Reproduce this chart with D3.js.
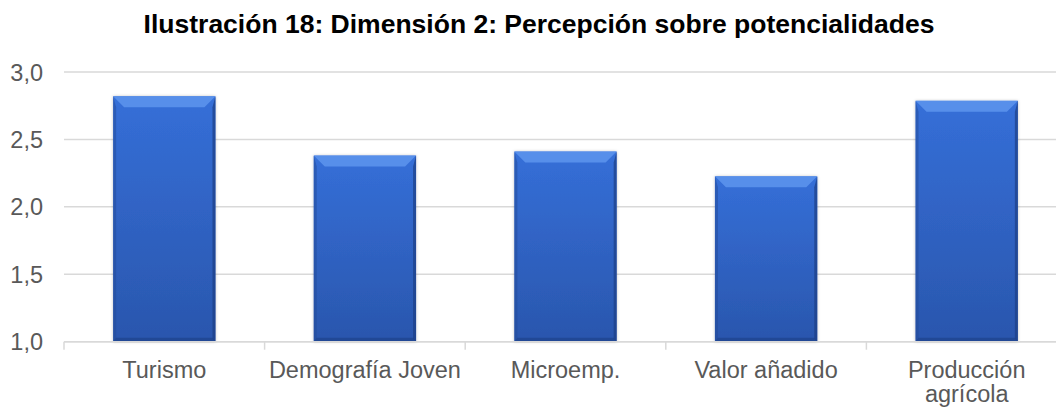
<!DOCTYPE html>
<html>
<head>
<meta charset="utf-8">
<script src="https://cdn.jsdelivr.net/npm/d3@7"></script>
<style>
  body { margin: 0; background: #fff; }
  svg { display: block; }
</style>
</head>
<body>
<div id="chartContainer"></div>
<script>
var categories = ['Turismo', 'Demografía Joven', 'Microemp.', 'Valor añadido', 'Producción agrícola'];
var values = [2.82, 2.38, 2.41, 2.226, 2.786];
var yTicks = [1.0, 1.5, 2.0, 2.5, 3.0];
var titleText = 'Ilustración 18: Dimensión 2: Percepción sobre potencialidades';

var width = 1056, height = 407;
var plot = { left: 64, right: 1067, top: 72, bottom: 341.7 };
var fontFamily = '"Liberation Sans", Arial, sans-serif';
var bevel = 11;

const svg = d3.select('#chartContainer')
    .append('svg')
    .attr('width', width)
    .attr('height', height);

let defs = svg.append('defs');

let grad = defs.append('linearGradient')
    .attr('id', 'barGrad')
    .attr('x1', 0).attr('y1', 0).attr('x2', 0).attr('y2', 1);
grad.append('stop').attr('offset', '0%').attr('stop-color', '#356fd8');
grad.append('stop').attr('offset', '100%').attr('stop-color', '#2a56ad');

let shadow = defs.append('filter')
    .attr('id', 'barShadow')
    .attr('x', '-10%').attr('y', '-10%').attr('width', '120%').attr('height', '120%');
shadow.append('feDropShadow')
    .attr('dx', 0).attr('dy', 0).attr('stdDeviation', 1.5)
    .attr('flood-color', '#000').attr('flood-opacity', 0.25);

const x = d3.scaleBand()
    .domain(categories)
    .range([plot.left, plot.right])
    .paddingInner(0.49)
    .paddingOuter(0.245);

const y = d3.scaleLinear()
    .domain([1, 3])
    .range([plot.bottom, plot.top]);

// gridlines
svg.append('g')
    .selectAll('line')
    .data(yTicks)
    .join('line')
    .attr('x1', plot.left)
    .attr('x2', plot.right)
    .attr('y1', d => y(d))
    .attr('y2', d => y(d))
    .attr('stroke', '#d9d9d9')
    .attr('stroke-width', 1.5);

// y tick labels
svg.append('g')
    .selectAll('text')
    .data(yTicks)
    .join('text')
    .attr('x', 43)
    .attr('y', d => y(d) + 8.5)
    .attr('text-anchor', 'end')
    .attr('font-family', fontFamily)
    .attr('font-size', 23.5)
    .attr('fill', '#595959')
    .text(d => d.toFixed(1).replace('.', ','));

// bars
let bars = svg.append('g')
    .selectAll('g')
    .data(categories)
    .join('g');

bars.append('rect')
    .attr('x', d => x(d))
    .attr('y', (d, i) => y(values[i]))
    .attr('width', x.bandwidth())
    .attr('height', (d, i) => y(1) - y(values[i]))
    .attr('fill', 'url(#barGrad)')
    .attr('filter', 'url(#barShadow)');

// top bevel highlight
bars.append('path')
    .attr('d', (d, i) => {
        let x0 = x(d), x1 = x(d) + x.bandwidth(), t = y(values[i]);
        return `M${x0},${t}L${x1},${t}L${x1 - bevel},${t + bevel}L${x0 + bevel},${t + bevel}Z`;
    })
    .attr('fill', '#5b92ec')
    .attr('opacity', 0.9);

// side bevels
bars.append('path')
    .attr('d', (d, i) => {
        let x0 = x(d), t = y(values[i]), b = y(1);
        return `M${x0},${t}L${x0 + 3},${t + bevel}L${x0 + 3},${b - 3}L${x0},${b}Z`;
    })
    .attr('fill', '#224a98')
    .attr('opacity', 0.5);

bars.append('path')
    .attr('d', (d, i) => {
        let x1 = x(d) + x.bandwidth(), t = y(values[i]), b = y(1);
        return `M${x1},${t}L${x1 - 3},${t + bevel}L${x1 - 3},${b - 3}L${x1},${b}Z`;
    })
    .attr('fill', '#1d3f85')
    .attr('opacity', 0.7);

// bottom bevel
bars.append('path')
    .attr('d', (d, i) => {
        let x0 = x(d), x1 = x(d) + x.bandwidth(), b = y(1);
        return `M${x0},${b}L${x0 + 3},${b - 4}L${x1 - 3},${b - 4}L${x1},${b}Z`;
    })
    .attr('fill', '#1d3f85')
    .attr('opacity', 0.6);

// x axis line and ticks at category boundaries
svg.append('line')
    .attr('x1', plot.left)
    .attr('x2', plot.right)
    .attr('y1', y(1))
    .attr('y2', y(1))
    .attr('stroke', '#d9d9d9')
    .attr('stroke-width', 1.5);

let gap = (x.step() - x.bandwidth()) / 2;
svg.append('g')
    .selectAll('line')
    .data(categories)
    .join('line')
    .attr('x1', d => x(d) - gap)
    .attr('x2', d => x(d) - gap)
    .attr('y1', y(1))
    .attr('y2', y(1) + 8)
    .attr('stroke', '#d9d9d9')
    .attr('stroke-width', 1.5);

// category labels
let labels = svg.append('g')
    .selectAll('text')
    .data(categories)
    .join('text')
    .attr('x', d => x(d) + x.bandwidth() / 2)
    .attr('y', 378)
    .attr('text-anchor', 'middle')
    .attr('font-family', fontFamily)
    .attr('font-size', 23.5)
    .attr('fill', '#595959');

labels.each(function (d) {
    let parts = d === 'Producción agrícola' ? ['Producción', 'agrícola'] : [d];
    let t = d3.select(this);
    parts.forEach((p, i) => {
        t.append('tspan')
            .attr('x', x(d) + x.bandwidth() / 2)
            .attr('dy', i === 0 ? 0 : 24)
            .text(p);
    });
});

// title
svg.append('text')
    .attr('x', 539)
    .attr('y', 33)
    .attr('text-anchor', 'middle')
    .attr('font-family', fontFamily)
    .attr('font-weight', 'bold')
    .attr('font-size', 26.5)
    .attr('fill', '#000')
    .text(titleText);
</script>
</body>
</html>
